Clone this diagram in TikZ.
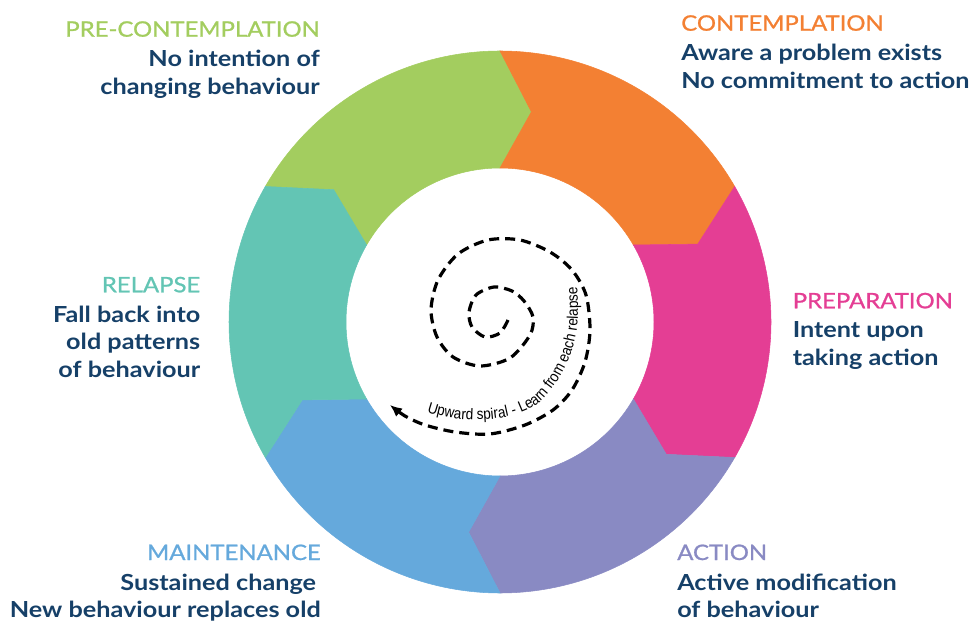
\documentclass[tikz,border=0pt]{standalone}
\usepackage{fontspec}
\setmainfont{Lato}[FakeStretch=1.14]
\newfontfamily\headfont{Lato}[FakeStretch=1.12,FakeBold=1]
\newfontfamily\spiralfont{Liberation Sans}[FakeStretch=0.88]
\usepackage{tikz}
\usetikzlibrary{positioning,arrows.meta,decorations.text}
\definecolor{navy}{RGB}{22,64,104}
\definecolor{pregreen}{RGB}{163,205,95}
\definecolor{conorange}{RGB}{243,128,51}
\definecolor{preppink}{RGB}{228,62,148}
\definecolor{actpurple}{RGB}{137,138,195}
\definecolor{mainblue}{RGB}{101,169,220}
\definecolor{relteal}{RGB}{99,197,180}
\tikzset{
  head/.style  ={font=\headfont\fontsize{16}{19}\selectfont, inner sep=0pt},
  body/.style  ={font=\bfseries\fontsize{16.6}{20.5}\selectfont, text=navy, inner sep=0pt},
  spiral/.style={draw=black, line width=2.4pt, dash pattern=on 7.5pt off 4.5pt},
}

\begin{document}
\begin{tikzpicture}[x=0.75pt,y=0.75pt]
\useasboundingbox (0,0) rectangle (973,621);
\begin{scope}[shift={(500,299)}]
\foreach \a/\c in {150/pregreen,90/conorange,30/preppink,-30/actpurple,-90/mainblue,-150/relteal}
  \filldraw[fill=\c,draw=\c,line width=0.4pt] (\a:271) arc[start angle=\a,end angle={\a-60},radius=271]
    -- ({\a-68.5}:212.5) -- ({\a-60}:154) arc[start angle={\a-60},end angle=\a,radius=154]
    -- ({\a-8.5}:212.5) -- cycle;
\end{scope}
\draw[spiral,-{Latex[length=9pt,width=8pt]}] plot[smooth] coordinates {(508,301) (500,288) (485,284)
  (472,294) (469,309) (476,326) (494,334) (512,330) (524,320) (533,304) (530,286) (510,263) (480,255)
  (453,264) (437,284) (431,311) (438,341) (458,367) (488,381) (520,381) (550,369) (572,351) (586,326)
  (590,291) (585,259) (572,231) (553,211) (525,196) (490,187) (455,189) (425,196) (405,205) (390,216)};
\begin{scope}[transform canvas={shift={(500,299)}}]
\path[decorate,decoration={text along path,text align=left,
  text={|\spiralfont\fontsize{11.6}{13}\selectfont|Upward spiral - Learn from each relapse}}]
  (-73,-90) .. controls (-40,-102) and (22,-102) .. (45,-75)
  .. controls (63.5,-54) and (78,-25) .. (78,10) .. controls (78,26) and (77,44) .. (75,62);
\end{scope}
\node[head,text=pregreen,anchor=base east] (prehead) at (320,584.3) {PRE-CONTEMPLATION};
\node[body,align=right,below left=10pt and 0pt of prehead.base east] (prebody) {No intention of\\changing behaviour};
\node[head,text=conorange,anchor=base west] (conhead) at (681,590.3) {CONTEMPLATION};
\node[body,align=left,below right=10pt and 0pt of conhead.base west] (conbody) {Aware a problem exists\\No commitment to action};
\node[head,text=preppink,anchor=base west] (prephead) at (792.5,312.7) {PREPARATION};
\node[body,align=left,below right=10pt and 0pt of prephead.base west] (prepbody) {Intent upon\\taking action};
\node[head,text=actpurple,anchor=base west] (acthead) at (677,61) {ACTION};
\node[body,align=left,below right=10pt and 0pt of acthead.base west] (actbody) {Active modification\\of behaviour};
\node[head,text=mainblue,anchor=base east] (mainhead) at (321,61) {MAINTENANCE};
\node[body,align=right,below left=10pt and 0pt of mainhead.base east] (mainbody) {Sustained change\kern3.5pt\\New behaviour replaces old};
\node[head,text=relteal,anchor=base east] (relhead) at (200.5,328.7) {RELAPSE};
\node[body,align=right,below left=10pt and 0pt of relhead.base east] (relbody) {Fall back into\\old patterns\\of behaviour};
\end{tikzpicture}
\end{document}
